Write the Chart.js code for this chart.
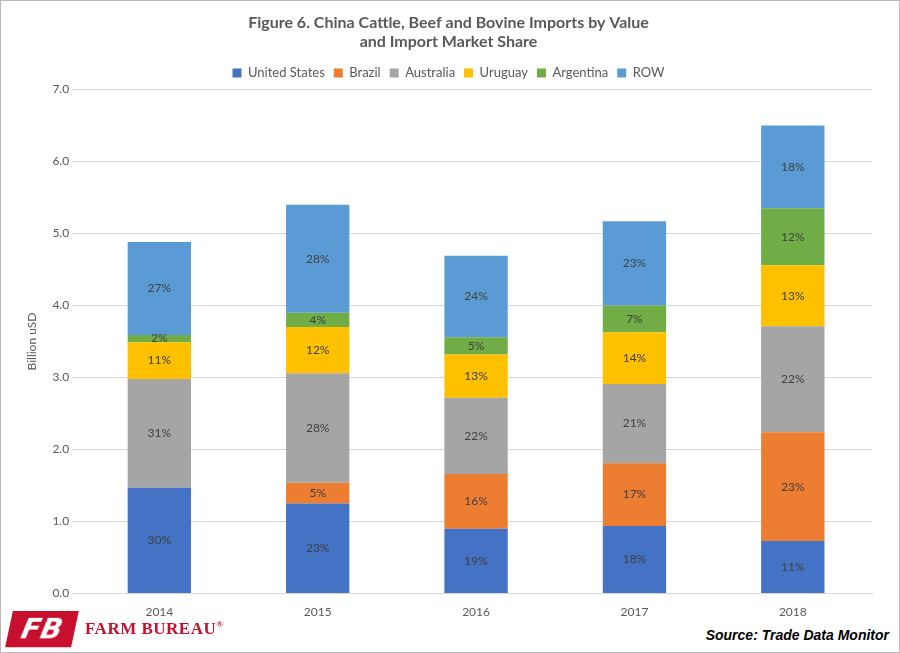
<!DOCTYPE html>
<html><head><meta charset="utf-8">
<script src="https://cdn.jsdelivr.net/npm/chart.js@4/dist/chart.umd.min.js"></script>
<style>
body{margin:0;background:#fff;font-family:Lato,sans-serif}
#wrap{position:relative;width:898px;height:651px;border:1px solid #bbb}
#c{position:absolute;left:0;top:0}
#logo{position:absolute;left:8px;top:610px;display:flex;align-items:center}
#logo .mk{width:66px;height:36px;background:#c8102e;color:#fff;font:bold italic 28px "DejaVu Sans";text-align:center;line-height:36px;transform:skewX(-12deg)}
#logo .tx{font:bold 17px "Liberation Serif";color:#c8102e;margin-left:10px;letter-spacing:0.5px}
#src{position:absolute;right:10px;top:626px;font:bold italic 14px "Liberation Sans";color:#000}
</style></head><body>
<div id="wrap"><canvas id="c" width="898" height="621"></canvas>
<div id="logo"><div class="mk">FB</div><div class="tx">FARM BUREAU<sup style="font-size:9px">®</sup></div></div>
<div id="src">Source: Trade Data Monitor</div></div>
<script>
var years = ['2014','2015','2016','2017','2018'];
var seriesNames = ['United States','Brazil','Australia','Uruguay','Argentina','ROW'];
var colors = ['#4472C4','#ED7D31','#A5A5A5','#FFC000','#70AD47','#5B9BD5'];
var us = [1.47,1.25,0.90,0.94,0.73];
var brazil = [0,0.29,0.76,0.87,1.51];
var australia = [1.51,1.52,1.06,1.10,1.47];
var uruguay = [0.51,0.64,0.60,0.72,0.85];
var argentina = [0.10,0.20,0.24,0.37,0.79];
var row = [1.29,1.50,1.13,1.17,1.15];
var shares = [
  ['30%','23%','19%','18%','11%'],
  ['','5%','16%','17%','23%'],
  ['31%','28%','22%','21%','22%'],
  ['11%','12%','13%','14%','13%'],
  ['2%','4%','5%','7%','12%'],
  ['27%','28%','24%','23%','18%']
];
var values = [us,brazil,australia,uruguay,argentina,row];

var labelPlugin = {
  id:'shareLabels',
  afterDatasetsDraw: function(chart){
    var ctx = chart.ctx;
    ctx.save();
    ctx.font = '12px Lato';
    ctx.fillStyle = '#404040';
    ctx.textAlign = 'center';
    ctx.textBaseline = 'middle';
    chart.data.datasets.forEach(function(ds, i){
      chart.getDatasetMeta(i).data.forEach(function(bar, j){
        var t = shares[i][j];
        if (!t) return;
        ctx.fillText(t, bar.x, (bar.y + bar.base)/2);
      });
    });
    ctx.restore();
  }
};

new Chart(document.getElementById('c'), {
  type:'bar',
  data:{
    labels: years,
    datasets: values.map(function(v,i){
      return {label:seriesNames[i], data:v, backgroundColor:colors[i], barPercentage:0.4, categoryPercentage:1};
    })
  },
  options:{
    responsive:false, animation:false,
    layout:{padding:{left:24,right:27,top:4,bottom:0}},
    plugins:{
      title:{display:true, text:['Figure 6. China Cattle, Beef and Bovine Imports by Value','and Import Market Share'],
        color:'#595959', font:{family:'Lato', size:16, weight:'bold'}, padding:{top:8,bottom:6}},
      legend:{labels:{boxWidth:9, boxHeight:9, color:'#595959', font:{family:'Lato', size:13}, padding:9}},
      tooltip:{enabled:false}
    },
    scales:{
      x:{stacked:true, grid:{display:false}, border:{color:'#d9d9d9'},
        ticks:{color:'#595959', font:{family:'Lato', size:12}}},
      y:{stacked:true, min:0, max:7, grid:{color:'#d9d9d9'}, border:{display:false},
        ticks:{stepSize:1, color:'#595959', font:{family:'Lato', size:12}, callback:function(v){return v.toFixed(1);}},
        title:{display:true, text:'Billion uSD', color:'#595959', font:{family:'Lato', size:12}, padding:{top:0,bottom:10}}}
    }
  },
  plugins:[labelPlugin]
});
</script></body></html>
